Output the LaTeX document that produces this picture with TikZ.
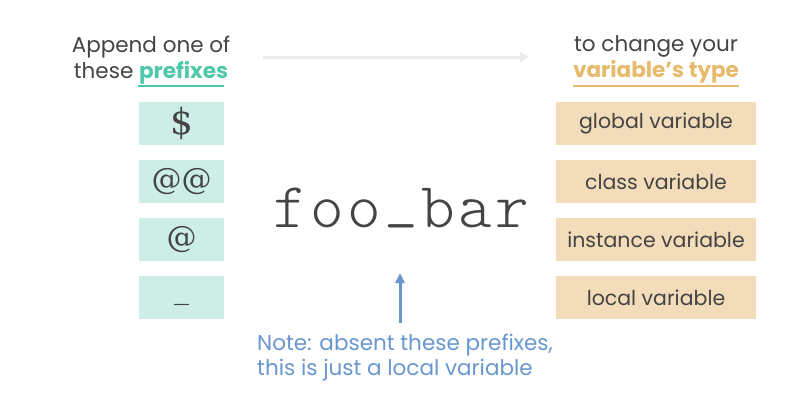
\documentclass[tikz,border=0pt]{standalone}
\usepackage{fontspec}
\setmainfont{Poppins}
\newfontfamily\codefont{Latin Modern Mono Light}
\newfontfamily\symfont{DejaVu Serif}
\usetikzlibrary{arrows.meta}
\definecolor{inkgray}{HTML}{444444}
\definecolor{tealtxt}{HTML}{4FC9A9}
\definecolor{tealbox}{HTML}{CDEEE6}
\definecolor{tantxt}{HTML}{E8BA6C}
\definecolor{tanbox}{HTML}{F2DCB9}
\definecolor{notblue}{HTML}{6A97CF}
\definecolor{arrowgray}{HTML}{EBEBEB}
% one fixed-width cell per character of the identifier
\newcommand{\cell}[1]{\makebox[37pt]{#1}}
\tikzset{
  prefixbox/.style={fill=tealbox, minimum width=85pt, minimum height=43pt, inner sep=0pt,
    text=inkgray, font=\symfont\fontsize{30}{30}\selectfont},
  typebox/.style={fill=tanbox, minimum width=200pt, minimum height=43pt, inner sep=0pt,
    text=inkgray, font=\fontsize{20.5}{20.5}\selectfont},
  heading/.style={anchor=base, text=inkgray, font=\fontsize{21.5}{21.5}\selectfont, inner sep=0pt},
  note/.style={anchor=base west, text=notblue, font=\fontsize{21.5}{21.5}\selectfont, inner sep=0pt},
}
\begin{document}
\begin{tikzpicture}[x=1pt, y=-1pt]
\useasboundingbox (0,0) rectangle (800,400);
\fill[white] (0,0) rectangle (800,400);

% headings
\node[heading] (h1) at (151,52) {Append one of};
\node[heading] (h2) at (151,78) {these \textbf{\color{tealtxt}prefixes}};
\draw[tealtxt, line width=2pt] (138,86) -- (224,86);
\node[heading] (h3) at (656,51) {to change your};
\node[heading, text=tantxt] (h4) at (656,77) {\textbf{variable’s type}};
\draw[tantxt, line width=2pt] (573,86) -- (739,86);

% arrow between the headings
\coordinate (arL) at (263,57);
\coordinate (arR) at (529,57);
\draw[arrowgray, line width=3pt, -{Triangle[length=9pt, width=9pt]}] (arL) -- (arR);

% prefixes
\node[prefixbox, font=\symfont\fontsize{36}{36}\selectfont] (p1) at (181.5,123.5) {\$};
\node[prefixbox] (p2) at (181.5,181.5) {@@};
\node[prefixbox] (p3) at (181.5,239.5) {@};
\node[prefixbox] (p4) at (181.5,297.5) {\raisebox{-9pt}{\_}};

% variable types
\node[typebox] (t1) at (656,123.5) {global variable};
\node[typebox] (t2) at (656,181.5) {class variable};
\node[typebox] (t3) at (656,239.5) {instance variable};
\node[typebox] (t4) at (656,297.5) {local variable};

% identifier
\node[anchor=base, inner sep=0pt, text=inkgray, font=\codefont\fontsize{64}{64}\selectfont] (foo) at (401,227)
  {\cell{f}\cell{o}\cell{o}\cell{\raisebox{11pt}{\_}}\cell{b}\cell{a}\cell{r}};

% note with its arrow
\node[note] (n1) at (257,350) {Note: absent these prefixes,};
\node[note] (n2) at (257,375) {this is just a local variable};
\coordinate (nt) at (400,323);
\coordinate (ft) at (400,273);
\draw[notblue, line width=3pt, -{Triangle[length=10pt, width=9pt]}] (nt) -- (ft);
\end{tikzpicture}
\end{document}
